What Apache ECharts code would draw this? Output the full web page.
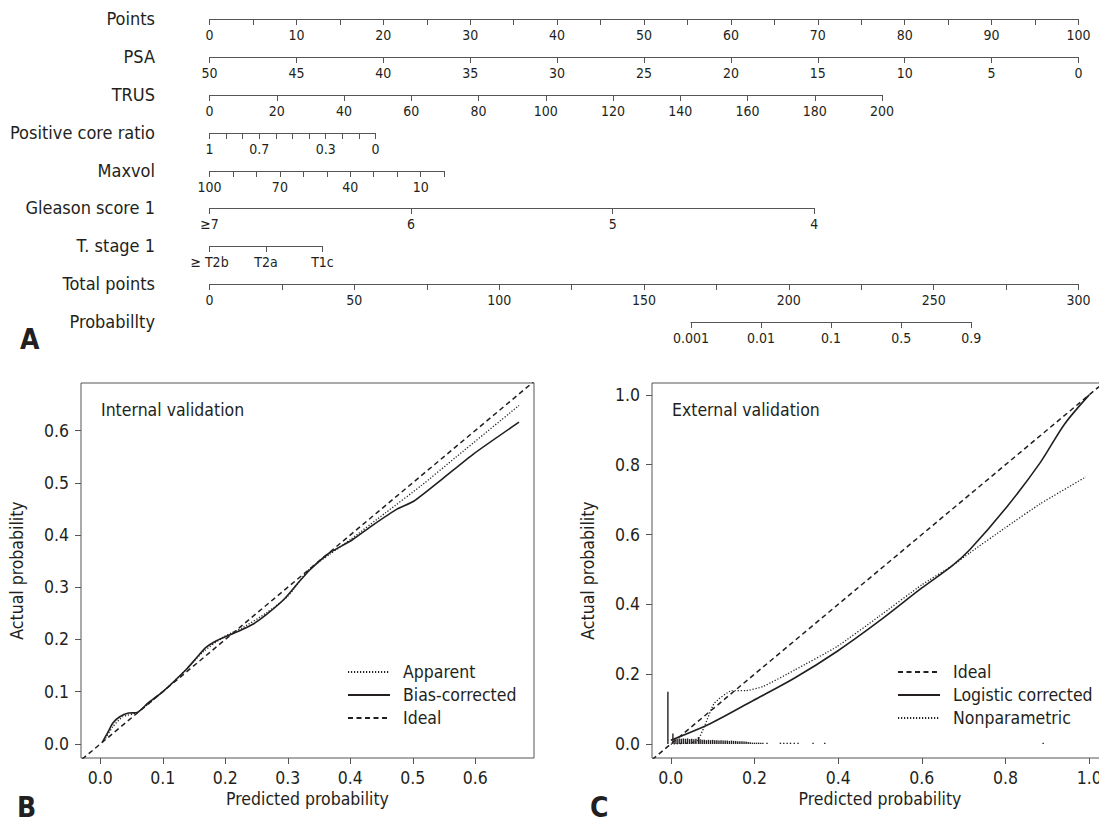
<!DOCTYPE html>
<html><head><meta charset="utf-8">
<script src="https://cdn.jsdelivr.net/npm/echarts@6/dist/echarts.min.js"></script>
<style>html,body{margin:0;padding:0;background:#fff}#c{width:1099px;height:827px}</style>
</head><body><div id="c"></div>
<script>
// ---------------- Panel A: nomogram data ----------------
const rowNames = ['Points','PSA','TRUS','Positive core ratio','Maxvol','Gleason score 1','T. stage 1','Total points','Probabillty'];
const pointsRange = [0, 100];
const psaRange = [50, 0];       const psaPoints = [0, 100];
const trusRange = [0, 200];     const trusPoints = [0, 77.4];
const pcrRange = [1, 0];        const pcrPoints = [0, 19.1];
const pcrLabels = [1, 0.7, 0.3, 0];
const maxvolRange = [100, 0];   const maxvolPoints = [0, 27.0];
const maxvolLabels = [100, 70, 40, 10];
const gleasonRange = [7, 4];    const gleasonPoints = [0, 69.6];
const tstageCats = ['\u2265 T2b', 'T2a', 'T1c'];  const tstagePoints = [0, 13.0];
const totalRange = [0, 300];
const probCats = ['0.001', '0.01', '0.1', '0.5', '0.9'];  const probTotalPoints = [166.2, 263.0];

// ---------------- Panel B: internal validation ----------------
const ticksB = [0, 0.1, 0.2, 0.3, 0.4, 0.5, 0.6];
const idealB = [-0.05, 0.72];
const apparentB = [[0.006,0.006],[0.02,0.033],[0.036,0.052],[0.059,0.06],[0.1,0.1],[0.137,0.142],[0.165,0.177],[0.199,0.206],[0.227,0.222],[0.266,0.251],[0.3,0.283],[0.334,0.334],[0.367,0.363],[0.401,0.392],[0.457,0.443],[0.513,0.494],[0.569,0.549],[0.67,0.648]];
const biasCorrectedB = [[0.003,0.003],[0.011,0.02],[0.02,0.04],[0.031,0.052],[0.045,0.059],[0.059,0.06],[0.076,0.078],[0.1,0.1],[0.137,0.142],[0.154,0.165],[0.168,0.184],[0.185,0.197],[0.202,0.206],[0.227,0.219],[0.244,0.229],[0.266,0.248],[0.294,0.277],[0.317,0.309],[0.336,0.334],[0.367,0.366],[0.401,0.389],[0.435,0.418],[0.474,0.449],[0.502,0.465],[0.547,0.507],[0.597,0.555],[0.67,0.616]];

// ---------------- Panel C: external validation ----------------
const ticksC = [0, 0.2, 0.4, 0.6, 0.8, 1.0];
const idealC = [-0.06, 1.06];
const logisticC = [[0,0.011],[0.095,0.059],[0.196,0.124],[0.296,0.189],[0.397,0.265],[0.497,0.351],[0.6,0.447],[0.673,0.511],[0.715,0.557],[0.803,0.679],[0.883,0.806],[0.941,0.916],[1.0,1.0]];
const nonparamC = [[0,0.0],[0.062,0.007],[0.08,0.05],[0.104,0.117],[0.146,0.153],[0.179,0.153],[0.221,0.165],[0.296,0.212],[0.397,0.279],[0.497,0.365],[0.6,0.456],[0.673,0.511],[0.715,0.548],[0.799,0.619],[0.883,0.688],[0.992,0.765]];
const spikeX = [-0.007,0.005,0.01,0.015,0.02,0.025,0.03,0.035,0.04,0.045,0.05,0.055,0.06,0.066,0.07,0.075,0.08,0.085,0.09,0.095,0.1,0.105,0.11,0.115,0.12,0.125,0.13,0.135,0.14,0.145,0.15,0.155,0.16,0.165,0.17,0.175,0.18,0.185,0.19,0.195,0.2,0.205,0.21,0.215,0.22,0.23,0.262,0.27,0.278,0.286,0.295,0.304,0.34,0.368,0.89];
const spikeH = [0.15,0.03,0.016,0.015,0.016,0.015,0.016,0.015,0.016,0.014,0.015,0.014,0.015,0.02,0.014,0.012,0.012,0.011,0.012,0.011,0.012,0.011,0.011,0.01,0.011,0.01,0.01,0.01,0.009,0.01,0.009,0.009,0.008,0.008,0.008,0.007,0.007,0.006,0.005,0.004,0.004,0.004,0.004,0.004,0.004,0.004,0.004,0.004,0.004,0.004,0.004,0.004,0.004,0.004,0.004];

// ---------------- layout / style ----------------
const FONT = "'DejaVu Sans Condensed','Liberation Sans',sans-serif";
const INK = '#231f20';
const GRAY = '#555555';
const X0 = 209.5, X1 = 1078.5;
const rowY = [19, 57, 95, 133, 171, 208, 246, 284, 322];
const LABEL_RIGHT = 155;
const pxPts = p => X0 + p * (X1 - X0) / 100;
const pxTot = t => X0 + t * (X1 - X0) / 300;
const near = (a, b) => Math.abs(a - b) < 1e-6;
const isMult = (v, m) => near(v / m, Math.round(v / m));

const rows = [
  {kind:'value', range: pointsRange, span:[pxPts(0), pxPts(100)], interval:5, fmt: v => isMult(v,10) ? String(v) : ''},
  {kind:'value', range: psaRange, span:[pxPts(psaPoints[0]), pxPts(psaPoints[1])], interval:5},
  {kind:'value', range: trusRange, span:[pxPts(trusPoints[0]), pxPts(trusPoints[1])], interval:20},
  {kind:'value', range: pcrRange, span:[pxPts(pcrPoints[0]), pxPts(pcrPoints[1])], interval:0.1, fmt: v => pcrLabels.some(l => near(l, v)) ? String(+v.toFixed(1)) : ''},
  {kind:'value', range: maxvolRange, span:[pxPts(maxvolPoints[0]), pxPts(maxvolPoints[1])], interval:10, fmt: v => maxvolLabels.some(l => near(l, v)) ? String(v) : ''},
  {kind:'value', range: gleasonRange, span:[pxPts(gleasonPoints[0]), pxPts(gleasonPoints[1])], interval:1, fmt: v => near(v,7) ? '\u22657' : String(v)},
  {kind:'category', cats: tstageCats, span:[pxPts(tstagePoints[0]), pxPts(tstagePoints[1])]},
  {kind:'value', range: totalRange, span:[pxTot(0), pxTot(300)], interval:25, fmt: v => isMult(v,50) ? String(v) : ''},
  {kind:'category', cats: probCats, span:[pxTot(probTotalPoints[0]), pxTot(probTotalPoints[1])]}
];

const grids = [], xAxes = [], yAxes = [];
rows.forEach((r, i) => {
  const left = r.span[0], width = r.span[1] - r.span[0];
  grids.push({left: left, width: width, top: rowY[i] - 1, height: 1, containLabel: false, outerBoundsMode: 'none'});
  const common = {
    gridIndex: i, position: 'bottom',
    axisLine: {show: true, onZero: false, lineStyle: {color: GRAY, width: 1}},
    axisTick: {show: true, length: 6, inside: false, lineStyle: {color: GRAY, width: 1}},
    axisLabel: {show: true, margin: 9, fontSize: 14, fontFamily: FONT, color: INK, showMinLabel: true, showMaxLabel: true},
    splitLine: {show: false}, splitArea: {show: false}
  };
  if (r.kind === 'value') {
    const mn = Math.min(r.range[0], r.range[1]), mx = Math.max(r.range[0], r.range[1]);
    const ax = Object.assign({type: 'value', min: mn, max: mx, interval: r.interval, inverse: r.range[0] > r.range[1]}, common);
    if (r.fmt) ax.axisLabel = Object.assign({}, common.axisLabel, {formatter: r.fmt});
    xAxes.push(ax);
  } else {
    const ax = Object.assign({type: 'category', data: r.cats, boundaryGap: false}, common);
    ax.axisTick = Object.assign({}, common.axisTick, {interval: 0});
    ax.axisLabel = Object.assign({}, common.axisLabel, {interval: 0});
    xAxes.push(ax);
  }
  yAxes.push({
    type: 'category', gridIndex: i, data: [rowNames[i]],
    axisLine: {show: false}, axisTick: {show: false}, splitLine: {show: false},
    axisLabel: {show: true, margin: left - LABEL_RIGHT, fontSize: 18, fontFamily: FONT, color: INK}
  });
});

// panels B and C
const fmt1 = v => Number(v).toFixed(1);
const PFS = 17.5;
function panelAxes(gi, xr, yr, ticks) {
  const tickStyle = {show: true, length: 6, inside: false, lineStyle: {color: GRAY, width: 1}, customValues: ticks};
  const lab = {show: true, fontSize: PFS, fontFamily: FONT, color: INK, formatter: fmt1, customValues: ticks};
  xAxes.push({type: 'value', gridIndex: gi, min: xr[0], max: xr[1], position: 'bottom',
    axisLine: {show: false, onZero: false}, axisTick: tickStyle, axisLabel: Object.assign({margin: 11}, lab), splitLine: {show: false},
    name: 'Predicted probability', nameLocation: 'middle', nameGap: 32,
    nameTextStyle: {fontSize: PFS, fontFamily: FONT, color: INK}});
  yAxes.push({type: 'value', gridIndex: gi, min: yr[0], max: yr[1], position: 'left',
    axisLine: {show: false, onZero: false}, axisTick: tickStyle, axisLabel: Object.assign({margin: 12}, lab), splitLine: {show: false},
    name: 'Actual probability', nameLocation: 'middle', nameGap: 55, nameRotate: 90,
    nameTextStyle: {fontSize: PFS, fontFamily: FONT, color: INK}});
}
grids.push({left: 81, top: 383, width: 453, height: 375, show: true, borderColor: GRAY, borderWidth: 1, backgroundColor: 'transparent', containLabel: false, outerBoundsMode: 'none'});
panelAxes(9, [-0.031, 0.694], [-0.027, 0.691], ticksB);
grids.push({left: 652, top: 383, width: 456, height: 375, show: true, borderColor: GRAY, borderWidth: 1, backgroundColor: 'transparent', containLabel: false, outerBoundsMode: 'none'});
panelAxes(10, [-0.045, 1.045], [-0.040, 1.034], ticksC);

const dashed = {type: [5, 3.5], width: 1.5, color: INK};
const dotted = {type: [1.2, 1.8], width: 1.3, color: INK};
const solid = {type: 'solid', width: 1.6, color: INK};
function lineSeries(name, gi, data, ls, sm) {
  return {name: name, type: 'line', xAxisIndex: gi, yAxisIndex: gi, data: data, symbol: 'none', showSymbol: false,
    smooth: sm || false, clip: true, lineStyle: ls, itemStyle: {color: INK}, silent: true, animation: false};
}
const series = [
  lineSeries('Apparent', 9, apparentB, dotted, 0.2),
  lineSeries('Bias-corrected', 9, biasCorrectedB, solid, 0.2),
  lineSeries('Ideal', 9, idealB.map(v => [v, v]), dashed),
  lineSeries('Logistic corrected', 10, logisticC, solid, 0.3),
  lineSeries('Nonparametric', 10, nonparamC, dotted, 0.15),
  lineSeries('Ideal', 10, idealC.map(v => [v, v]), dashed),
  {type: 'bar', xAxisIndex: 10, yAxisIndex: 10, data: spikeX.map((x, i) => [x, spikeH[i]]), barWidth: 1.4,
   itemStyle: {color: INK}, silent: true, animation: false}
];

const titleStyle = {fontSize: 28, fontWeight: 'bold', fontFamily: FONT, color: INK};
const textStyleP = {fontSize: PFS, fontWeight: 'normal', fontFamily: FONT, color: INK};
const legendCommon = {orient: 'vertical', padding: 0, itemWidth: 42, itemHeight: 12, itemGap: 5, selectedMode: false,
  itemStyle: {opacity: 0, borderWidth: 0}, textStyle: Object.assign({padding: [0, 0, 0, 8]}, textStyleP)};
const option = {
  animation: false,
  backgroundColor: '#ffffff',
  textStyle: {fontFamily: FONT, color: INK},
  title: [
    {text: 'A', left: 20, top: 325, padding: 0, textStyle: titleStyle},
    {text: 'B', left: 17, top: 793, padding: 0, textStyle: titleStyle},
    {text: 'C', left: 590, top: 793, padding: 0, textStyle: titleStyle},
    {text: 'Internal validation', left: 101, top: 401, padding: 0, textStyle: textStyleP},
    {text: 'External validation', left: 672, top: 401, padding: 0, textStyle: textStyleP}
  ],
  legend: [
    Object.assign({left: 347, top: 663, data: ['Apparent', 'Bias-corrected', 'Ideal']}, legendCommon),
    Object.assign({left: 897, top: 663, data: ['Ideal', 'Logistic corrected', 'Nonparametric']}, legendCommon)
  ],
  grid: grids, xAxis: xAxes, yAxis: yAxes, series: series
};
const chart = echarts.init(document.getElementById('c'), null, {renderer: 'svg', width: 1099, height: 827});
chart.setOption(option);
</script></body></html>
